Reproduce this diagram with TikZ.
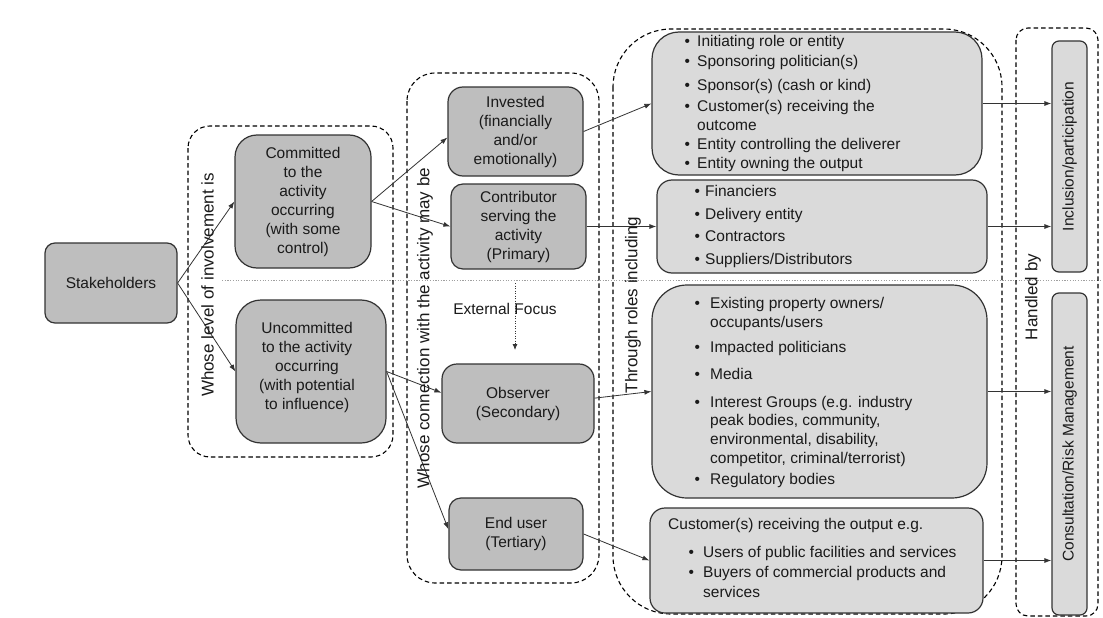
\documentclass[tikz,border=0pt]{standalone}
\usepackage{fontspec}
\setmainfont{Liberation Sans}
\usetikzlibrary{arrows.meta}
\definecolor{ink}{HTML}{1A1A1A}
\definecolor{edge}{HTML}{333333}
\definecolor{midgray}{HTML}{BEBEBE}
\definecolor{paleboxgray}{HTML}{DADADA}
\definecolor{rulegray}{HTML}{A0A0A0}

\begin{document}
\begin{tikzpicture}[x=1pt,y=-1pt,
  every node/.style={text=ink,font=\fontsize{15.5}{19}\selectfont},
  card/.style={draw=edge,line width=1.2pt,fill=midgray,rounded corners=#1,inner sep=0pt,align=center},
  card/.default=14pt,
  listcard/.style={draw=edge,line width=1.2pt,fill=paleboxgray,rounded corners=#1,inner sep=0pt},
  listcard/.default=14pt,
  group/.style={draw=black,line width=1.1pt,dash pattern=on 4.5pt off 3pt,rounded corners=#1},
  grouplabel/.style={rotate=90,font=\fontsize{17}{20}\selectfont,inner sep=0pt},
  plain/.style={inner sep=0pt,align=center},
  listtext/.style={anchor=base west,inner sep=0pt},
  link/.style={draw=edge,line width=0.8pt,-{Latex[length=7pt,width=5pt]}},
  hint/.style={draw=edge,line width=0.8pt,dash pattern=on 1pt off 1.5pt,-{Latex[length=6pt,width=5pt]}},
  divider/.style={draw=rulegray,line width=1pt,dash pattern=on 1.2pt off 1.5pt},
]
\fill[white] (0,0) rectangle (1103,618);
\useasboundingbox (0,0) rectangle (1103,618);

% horizontal divider between internal and external stakeholders
\coordinate (divL) at (222,280);
\coordinate (divR) at (1100,280);
\draw[divider] (divL) -- (divR);

% dashed groupings
\draw[group=22pt] (188,126) rectangle (393,457);
\draw[group=28pt] (407,73) rectangle (599,583);
\draw[group=58pt] (613,29) rectangle (1002,614);
\draw[group=12pt] (1016,28) rectangle (1098,616);

% first column
\node[card=10pt,minimum width=132pt,minimum height=80pt] (stake) at (111,283) {Stakeholders};

% second column
\node[card=22pt,minimum width=136pt,minimum height=133pt] (comm) at (303,201.5)
  {Committed\\to the\\activity\\occurring\\(with some\\control)};
\node[card=25pt,minimum width=150pt,minimum height=143pt] (uncomm) at (311,371.5) {};
\node[plain] (uncomm-t) at (307,367)
  {Uncommitted\\to the activity\\occurring\\(with potential\\to influence)};

% third column
\node[card=15pt,minimum width=135pt,minimum height=89pt] (inv) at (515.5,131.5)
  {Invested\\(financially\\and/or\\emotionally)};
\node[card=12pt,minimum width=135pt,minimum height=85pt] (contr) at (518.5,226.5)
  {Contributor\\serving the\\activity\\(Primary)};
\node[card=15pt,minimum width=152pt,minimum height=79pt] (obs) at (518,403.5)
  {Observer\\(Secondary)};
\node[card=12pt,minimum width=134pt,minimum height=72pt] (endu) at (516,534)
  {End user\\(Tertiary)};

\node[plain] (extf) at (505,309) {External Focus};
\coordinate (ef0) at (515,283);
\coordinate (ef1) at (515,350);
\draw[hint] (ef0) -- (ef1);

% fourth column: role lists
\node[listcard=27pt,minimum width=330pt,minimum height=143pt] (boxA) at (817,103.5) {};
\node[listcard=15pt,minimum width=330pt,minimum height=93pt] (boxB) at (822,226.5) {};
\node[listcard=35pt,minimum width=335pt,minimum height=213pt] (boxC) at (819.5,391.5) {};
\node[listcard=15pt,minimum width=333pt,minimum height=105pt] (boxD) at (816.5,560.5) {};

\node[listtext] (boxA-t) at (684.5,47) {\begin{tabular}[t]{@{}p{12.5pt}@{}l@{}}
\textbullet & Initiating role or entity\\[1pt]
\textbullet & Sponsoring politician(s)\\[5pt]
\textbullet & Sponsor(s) (cash or kind)\\[2pt]
\textbullet & Customer(s) receiving the\\
 & outcome\\
\textbullet & Entity controlling the deliverer\\
\textbullet & Entity owning the output
\end{tabular}};

\node[listtext] (boxB-t) at (694.5,196) {\begin{tabular}[t]{@{}p{10.5pt}@{}l@{}}
\textbullet & Financiers\\[4pt]
\textbullet & Delivery entity\\[3pt]
\textbullet & Contractors\\[4pt]
\textbullet & Suppliers/Distributors
\end{tabular}};

\node[listtext] (boxC-t) at (694.5,308) {\begin{tabular}[t]{@{}p{15.5pt}@{}l@{}}
\textbullet & Existing property owners/\\
 & occupants/users\\[6pt]
\textbullet & Impacted politicians\\[8pt]
\textbullet & Media\\[9pt]
\textbullet & Interest Groups (e.g. industry\\[-1pt]
 & peak bodies, community,\\
 & environmental, disability,\\
 & competitor, criminal/terrorist)\\[2pt]
\textbullet & Regulatory bodies
\end{tabular}};

\node[listtext] (boxD-h) at (668,529) {Customer(s) receiving the output e.g.};
\node[listtext] (boxD-t) at (688.5,557) {\begin{tabular}[t]{@{}p{14.5pt}@{}l@{}}
\textbullet & Users of public facilities and services\\[1pt]
\textbullet & Buyers of commercial products and\\[1pt]
 & services
\end{tabular}};

% last column: how the roles are handled
\node[listcard=7pt,rotate=90,minimum width=231pt,minimum height=35pt] (incl) at (1069.5,156.5)
  {Inclusion/participation};
\node[listcard=7pt,rotate=90,minimum width=322pt,minimum height=35pt] (cons) at (1069.5,454)
  {Consultation/Risk Management};

% connectors
\draw[link] (stake.east) -- (comm.west);
\draw[link] (stake.east) -- (uncomm.west);
\draw[link] (comm.east) -- (inv.185);
\draw[link] (comm.east) -- (contr.west);
\draw[link] (uncomm.east) -- (obs.172);
\draw[link] (uncomm.east) -- (endu.176);
\draw[link] (inv.east) -- (boxA.west);
\draw[link] (contr.east) -- (boxB.west);
\draw[link] (obs.4) -- (boxC.west);
\draw[link] (endu.east) -- (boxD.west);
\draw[link] (boxA.east) -- (boxA.east -| incl.north);
\draw[link] (boxB.east) -- (boxB.east -| incl.north);
\draw[link] (boxC.east) -- (boxC.east -| cons.north);
\draw[link] (boxD.east) -- (boxD.east -| cons.north);

% group captions
\node[grouplabel] (lab1) at (207.5,285) {Whose level of involvement is};
\node[grouplabel] (lab2) at (425,328) {Whose connection with the activity may be};
\node[grouplabel] (lab3) at (633,305) {Through roles including};
\node[grouplabel] (lab4) at (1033,297) {Handled by};
\end{tikzpicture}
\end{document}
